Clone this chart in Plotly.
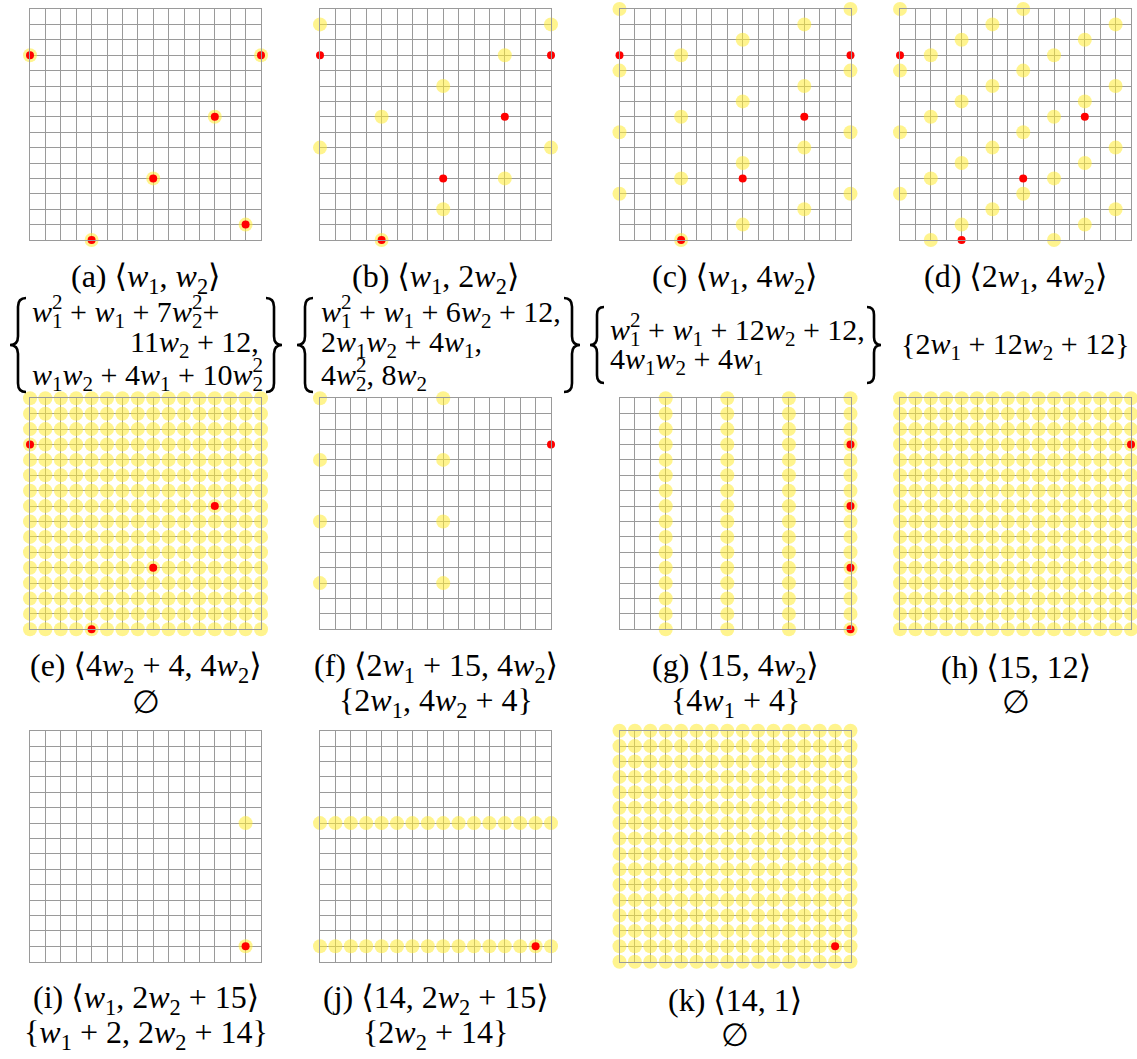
import plotly.graph_objects as go

W, H = 1137, 1059

# lattice coordinates 0..15 on each axis
GRID = [0, 1, 2, 3, 4, 5, 6, 7, 8, 9, 10, 11, 12, 13, 14, 15]

LABELS = ["a", "b", "c", "d", "e", "f", "g", "h", "i", "j", "k"]

# ---- yellow points (zero sets) ----
a_yellow_x = [0, 15, 12, 8, 14, 4]
a_yellow_y = [12, 12, 8, 4, 1, 0]
b_yellow_x = [0, 15, 12, 8, 4, 0, 15, 12, 8, 4]
b_yellow_y = [14, 14, 12, 10, 8, 6, 6, 4, 2, 0]
c_yellow_x = [0, 15, 12, 8, 4, 0, 15, 12, 8, 4, 0, 15, 12, 8, 4, 0, 15, 12, 8, 4]
c_yellow_y = [15, 15, 14, 13, 12, 11, 11, 10, 9, 8, 7, 7, 6, 5, 4, 3, 3, 2, 1, 0]
d_yellow_x = [0, 8, 6, 14, 4, 12, 2, 10, 0, 8, 6, 14, 4, 12, 2, 10,
              0, 8, 6, 14, 4, 12, 2, 10, 0, 8, 6, 14, 4, 12, 2, 10]
d_yellow_y = [15, 15, 14, 14, 13, 13, 12, 12, 11, 11, 10, 10, 9, 9, 8, 8,
              7, 7, 6, 6, 5, 5, 4, 4, 3, 3, 2, 2, 1, 1, 0, 0]
f_yellow_x = [0, 8, 0, 8, 0, 8, 0, 8]
f_yellow_y = [15, 15, 11, 11, 7, 7, 3, 3]
g_yellow_columns = [3, 7, 11, 15]
i_yellow_x = [14, 14]
i_yellow_y = [9, 1]
j_yellow_rows = [9, 1]

# ---- red points ----
a_red_x = [0, 15, 12, 8, 14, 4]
a_red_y = [12, 12, 8, 4, 1, 0]
b_red_x = [0, 15, 12, 8, 4]
b_red_y = [12, 12, 8, 4, 0]
c_red_x = [0, 15, 12, 8, 4]
c_red_y = [12, 12, 8, 4, 0]
d_red_x = [0, 12, 8, 4]
d_red_y = [12, 8, 4, 0]
e_red_x = [0, 12, 8, 4]
e_red_y = [12, 8, 4, 0]
f_red_x = [15]
f_red_y = [12]
g_red_x = [15, 15, 15, 15]
g_red_y = [12, 8, 4, 0]
h_red_x = [15]
h_red_y = [12]
i_red_x = [14]
i_red_y = [1]
j_red_x = [14]
j_red_y = [1]
k_red_x = [14]
k_red_y = [1]

full_x = [x for y in GRID for x in GRID]
full_y = [y for y in GRID for x in GRID]
g_yellow_x = [c for c in g_yellow_columns for y in GRID]
g_yellow_y = [y for c in g_yellow_columns for y in GRID]
j_yellow_x = [x for r in j_yellow_rows for x in GRID]
j_yellow_y = [r for r in j_yellow_rows for x in GRID]

yellow = {
    "a": (a_yellow_x, a_yellow_y), "b": (b_yellow_x, b_yellow_y),
    "c": (c_yellow_x, c_yellow_y), "d": (d_yellow_x, d_yellow_y),
    "e": (full_x, full_y), "f": (f_yellow_x, f_yellow_y),
    "g": (g_yellow_x, g_yellow_y), "h": (full_x, full_y),
    "i": (i_yellow_x, i_yellow_y), "j": (j_yellow_x, j_yellow_y),
    "k": (full_x, full_y),
}
red = {
    "a": (a_red_x, a_red_y), "b": (b_red_x, b_red_y), "c": (c_red_x, c_red_y),
    "d": (d_red_x, d_red_y), "e": (e_red_x, e_red_y), "f": (f_red_x, f_red_y),
    "g": (g_red_x, g_red_y), "h": (h_red_x, h_red_y), "i": (i_red_x, i_red_y),
    "j": (j_red_x, j_red_y), "k": (k_red_x, k_red_y),
}

W1 = "<i>w</i><sub>1</sub>"
W2 = "<i>w</i><sub>2</sub>"
captions = {
    "a": f"(a) ⟨{W1}, {W2}⟩",
    "b": f"(b) ⟨{W1}, 2{W2}⟩",
    "c": f"(c) ⟨{W1}, 4{W2}⟩",
    "d": f"(d) ⟨2{W1}, 4{W2}⟩",
    "e": f"(e) ⟨4{W2} + 4, 4{W2}⟩",
    "f": f"(f) ⟨2{W1} + 15, 4{W2}⟩",
    "g": f"(g) ⟨15, 4{W2}⟩",
    "h": "(h) ⟨15, 12⟩",
    "i": f"(i) ⟨{W1}, 2{W2} + 15⟩",
    "j": f"(j) ⟨14, 2{W2} + 15⟩",
    "k": "(k) ⟨14, 1⟩",
}
subsets = {
    "e": "∅",
    "f": f"{{2{W1}, 4{W2} + 4}}",
    "g": f"{{4{W1} + 4}}",
    "h": "∅",
    "i": f"{{{W1} + 2, 2{W2} + 14}}",
    "j": f"{{2{W2} + 14}}",
    "k": "∅",
}
# stacked sub/superscript: negative letter-spacing pulls the exponent back over the index
W1SQ = "<i>w</i><sub><span style='letter-spacing:-0.5em'>1</span></sub><sup>2</sup>"
W2SQ = "<i>w</i><sub><span style='letter-spacing:-0.5em'>2</span></sub><sup>2</sup>"
set_a = [f"{W1SQ} + {W1} + 7{W2SQ}+", f"11{W2} + 12,", f"{W1}{W2} + 4{W1} + 10{W2SQ}"]
set_b = [f"{W1SQ} + {W1} + 6{W2} + 12,", f"2{W1}{W2} + 4{W1},", f"4{W2SQ}, 8{W2}"]
set_c = [f"{W1SQ} + {W1} + 12{W2} + 12,", f"4{W1}{W2} + 4{W1}"]
set_d = f"{{2{W1} + 12{W2} + 12}}"

# ---- layout geometry (pixels) ----
COL_LEFT = [30, 320, 619.5, 900]
ROW_TOP = [9, 398.3, 730.7]
SIZE = 231
positions = {}
for idx, lab in enumerate(LABELS):
    r, c = divmod(idx, 4)
    positions[lab] = (COL_LEFT[c], ROW_TOP[r])

def px(x):
    return x / W

def py(y):
    return 1 - y / H

FAMILY = "Liberation Serif, DejaVu Serif, serif"
FONT_CAP = dict(family=FAMILY, size=32, color="black")
FONT_SET = dict(family=FAMILY, size=30, color="black")
GRIDC = "#9a9a9a"

fig = go.Figure()
layout = dict(width=W, height=H, margin=dict(l=0, r=0, t=0, b=0),
              paper_bgcolor="white", plot_bgcolor="white", showlegend=False)
annotations = []
shapes = []

for idx, lab in enumerate(LABELS):
    n = idx + 1
    xs = "x" if n == 1 else f"x{n}"
    ys = "y" if n == 1 else f"y{n}"
    x0, y0 = positions[lab]
    axcommon = dict(range=[0, 15], tick0=0, dtick=1, showgrid=True, gridcolor=GRIDC,
                    gridwidth=1, zeroline=False, showticklabels=False, ticks="",
                    showline=True, mirror=True, linecolor=GRIDC, linewidth=1,
                    fixedrange=True)
    layout["xaxis" if n == 1 else f"xaxis{n}"] = dict(
        axcommon, domain=[px(x0), px(x0 + SIZE)], anchor=ys)
    layout["yaxis" if n == 1 else f"yaxis{n}"] = dict(
        axcommon, domain=[py(y0 + SIZE), py(y0)], anchor=xs)
    yx, yy = yellow[lab]
    fig.add_trace(go.Scatter(x=yx, y=yy, mode="markers", xaxis=xs, yaxis=ys,
                             cliponaxis=False, hoverinfo="skip",
                             marker=dict(size=14, color="rgba(255,235,50,0.55)",
                                         line=dict(width=0))))
    rx, ry = red[lab]
    fig.add_trace(go.Scatter(x=rx, y=ry, mode="markers", xaxis=xs, yaxis=ys,
                             cliponaxis=False, hoverinfo="skip",
                             marker=dict(size=8, color="#ff0000", line=dict(width=0))))
    cx = x0 + SIZE / 2
    annotations.append(dict(text=captions[lab], x=px(cx), y=py(y0 + SIZE + 38),
                            xref="paper", yref="paper", xanchor="center",
                            yanchor="middle", showarrow=False, font=FONT_CAP))
    if lab in subsets:
        annotations.append(dict(text=subsets[lab], x=px(cx), y=py(y0 + SIZE + 73),
                                xref="paper", yref="paper", xanchor="center",
                                yanchor="middle", showarrow=False, font=FONT_CAP))

def text_line(txt, x, y, anchor="left"):
    annotations.append(dict(text=txt, x=px(x), y=py(y), xref="paper", yref="paper",
                            xanchor=anchor, yanchor="middle", showarrow=False,
                            font=FONT_SET))

# set (a)
text_line(set_a[0], 30, 311)
text_line(set_a[1], 261, 344, "right")
text_line(set_a[2], 30, 375)
# set (b)
text_line(set_b[0], 319, 311)
text_line(set_b[1], 319, 344)
text_line(set_b[2], 319, 375)
# set (c)
text_line(set_c[0], 608, 330)
text_line(set_c[1], 608, 361)
# set (d)
text_line(set_d, 1015.5, 346, "center")

def brace(xl, xr, top, bot, left=True):
    w = xr - xl
    xm = (xl + xr) / 2
    mid = (top + bot) / 2
    r = w * 0.55
    if left:
        tip, hook = xl, xr
    else:
        tip, hook = xr, xl
    pts = [
        ("M", [(hook, top)]),
        ("Q", [(xm, top), (xm, top + r)]),
        ("L", [(xm, mid - r)]),
        ("Q", [(xm, mid), (tip, mid)]),
        ("Q", [(xm, mid), (xm, mid + r)]),
        ("L", [(xm, bot - r)]),
        ("Q", [(xm, bot), (hook, bot)]),
    ]
    path = " ".join(cmd + " " + " ".join(f"{px(a):.5f},{py(b):.5f}" for a, b in p)
                    for cmd, p in pts)
    shapes.append(dict(type="path", path=path, xref="paper", yref="paper",
                       line=dict(color="black", width=2.6)))

brace(10, 26, 298, 392, True)
brace(266, 282, 298, 392, False)
brace(297, 313, 298, 392, True)
brace(564, 580, 298, 392, False)
brace(590, 604, 307, 383, True)
brace(867, 881, 307, 383, False)

layout["annotations"] = annotations
layout["shapes"] = shapes
fig.update_layout(**layout)
fig.write_html("out.html", config={"displayModeBar": False},
               post_script="document.body.style.margin='0';document.body.style.padding='0';")
